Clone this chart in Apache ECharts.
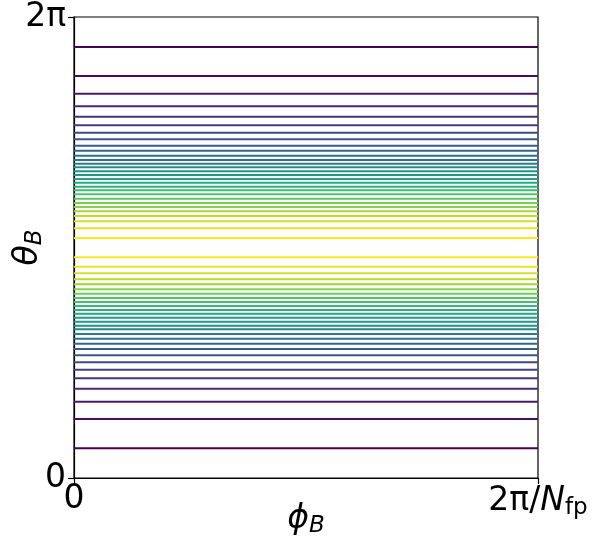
<!DOCTYPE html>
<html>
<head>
<meta charset="utf-8">
<script src="https://cdn.jsdelivr.net/npm/echarts@6/dist/echarts.min.js"></script>
<style>
  html, body { margin: 0; padding: 0; background: #fff; }
  #chart { width: 598px; height: 544px; }
</style>
</head>
<body>
<div id="chart"></div>
<script>
// theta_B of each contour line (radians)
// upper half, from the outermost (purple) line towards the centre
const thetaUpper = [5.874, 5.479, 5.238, 5.066, 4.924, 4.807, 4.706, 4.616, 4.529, 4.461,
  4.393, 4.334, 4.284, 4.235, 4.180, 4.130, 4.075, 4.025, 3.970, 3.921,
  3.867, 3.807, 3.748, 3.694, 3.635, 3.571, 3.499, 3.403, 3.271]
// lower half, from the outermost line towards the centre
const thetaLower = [0.405, 0.804, 1.040, 1.217, 1.359, 1.476, 1.577, 1.672, 1.758, 1.830,
  1.899, 1.963, 2.027, 2.076, 2.130, 2.185, 2.239, 2.290, 2.344, 2.399,
  2.453, 2.512, 2.572, 2.640, 2.708, 2.790, 2.880, 3.008]
// phi_B range, as a fraction of 2pi/Nfp
const phiRange = [0, 1]
const xTicks = [0, 1]
const yTicks = [0, 2 * Math.PI]

const viridisStops = ['#440154', '#482475', '#414487', '#355f8d', '#2a788e', '#21918c',
  '#22a884', '#44bf70', '#7ad151', '#bddf26', '#fde725']

function viridis(t) {
  const p = Math.max(0, Math.min(1, t)) * (viridisStops.length - 1)
  const i = Math.min(Math.floor(p), viridisStops.length - 2)
  const f = p - i
  const a = viridisStops[i], b = viridisStops[i + 1]
  const ch = k => {
    const va = parseInt(a.substr(1 + 2 * k, 2), 16)
    const vb = parseInt(b.substr(1 + 2 * k, 2), 16)
    return Math.round(va + (vb - va) * f)
  }
  return 'rgb(' + ch(0) + ',' + ch(1) + ',' + ch(2) + ')'
}

const series = []
const addLines = (list) => {
  list.forEach((th, i) => {
    series.push({
      type: 'line',
      data: phiRange.map(x => [x, th]),
      showSymbol: false,
      silent: true,
      lineStyle: { color: viridis(i / (list.length - 1)), width: 2 }
    })
  })
}
addLines(thetaUpper)
addLines(thetaLower)

const chart = echarts.init(document.getElementById('chart'))
chart.setOption({
  animation: false,
  grid: {
    left: 74, right: 60, top: 17, bottom: 66,
    outerBoundsMode: 'none',
    containLabel: false,
    show: true, borderColor: '#000', borderWidth: 1.2
  },
  xAxis: {
    type: 'value',
    min: 0, max: 1,
    splitLine: { show: false },
    axisLine: { show: true, lineStyle: { color: '#000', width: 1.2 } },
    axisTick: { show: true, customValues: xTicks, length: 6, lineStyle: { color: '#000', width: 1.2 } },
    axisLabel: {
      customValues: xTicks,
      margin: 5,
      color: '#000',
      fontFamily: 'DejaVu Sans',
      fontSize: 33,
      formatter: v => v === 0 ? '0' : '{n|2π/}{i|N}{s|fp}',
      rich: {
        n: { fontSize: 33, fontFamily: 'DejaVu Sans', color: '#000' },
        i: { fontSize: 33, fontFamily: 'DejaVu Sans', fontStyle: 'italic', color: '#000' },
        s: { fontSize: 23, fontFamily: 'DejaVu Sans', color: '#000', padding: [14, 0, 0, 0] }
      }
    },
    name: '{a|ϕ}{b|B}',
    nameLocation: 'middle',
    nameGap: 23,
    nameMoveOverlap: false,
    nameTextStyle: {
      rich: {
        a: { fontSize: 33, fontFamily: 'DejaVu Sans', fontStyle: 'italic', color: '#000' },
        b: { fontSize: 23, fontFamily: 'DejaVu Sans', fontStyle: 'italic', color: '#000', padding: [14, 0, 0, 0] }
      }
    }
  },
  yAxis: {
    type: 'value',
    min: 0, max: 2 * Math.PI,
    splitLine: { show: false },
    axisLine: { show: true, lineStyle: { color: '#000', width: 1.2 } },
    axisTick: { show: true, customValues: yTicks, length: 6, lineStyle: { color: '#000', width: 1.2 } },
    axisLabel: {
      customValues: yTicks,
      margin: 8,
      color: '#000',
      fontFamily: 'DejaVu Sans',
      fontSize: 33,
      formatter: v => v === 0 ? '0' : '2π'
    },
    name: '{a|θ}{b|B}',
    nameLocation: 'middle',
    nameRotate: 90,
    nameGap: 27,
    nameMoveOverlap: false,
    nameTextStyle: {
      rich: {
        a: { fontSize: 33, fontFamily: 'DejaVu Sans', fontStyle: 'italic', color: '#000' },
        b: { fontSize: 23, fontFamily: 'DejaVu Sans', fontStyle: 'italic', color: '#000', padding: [14, 0, 0, 0] }
      }
    }
  },
  series: series
})
</script>
</body>
</html>
